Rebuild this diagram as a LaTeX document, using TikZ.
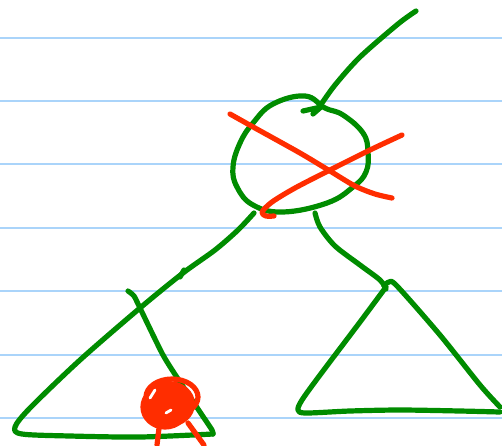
\documentclass[tikz,border=0pt]{standalone}
\usepackage{xcolor}
\usepackage{tikz}
\definecolor{inkgreen}{RGB}{0,140,0}
\definecolor{inkred}{RGB}{255,45,0}
\definecolor{ruleblue}{RGB}{170,212,250}
\tikzset{
  pen/.style={draw=inkgreen, line width=2.6pt, line cap=round, line join=round},
  redpen/.style={draw=inkred, line width=2.6pt, line cap=round, line join=round},
  ruled/.style={draw=ruleblue, line width=1pt}
}

\begin{document}
\begin{tikzpicture}[x=0.5pt, y=-0.5pt]
    \fill[white] (0,0) rectangle (502,445);
    \useasboundingbox (0,0) rectangle (502,445);
    % paper lines
    \foreach \y in {37.5,101,164,227.5,291,354.5,418}
      \draw[ruled] (0,\y) -- (502,\y);
    % root node with its parent edge
    \coordinate (top) at (416,11);
    \coordinate (root) at (320,106);
    \draw[pen] (top) plot[smooth] coordinates {(416,11) (398,24) (360,57) (335,85) (320,106)};
    \draw[pen] (303,111) -- (321,107) -- (313,114);
    \draw[pen] plot[smooth cycle, tension=0.7] coordinates {(325,108) (343,115) (363,133) (368,152)
      (366,172) (353,187) (327,203) (283,212) (253,205) (237,187) (233,167) (240,143)
      (253,123) (273,104) (305,96)};
    % crossed out
    \draw[redpen] plot[smooth] coordinates {(230,114) (255,128) (300,153) (330,171) (355,186) (375,194) (392,198)};
    \draw[redpen] plot[smooth] coordinates {(402,135) (370,150) (330,170) (295,188) (272,202) (262,212) (266,216) (274,216)};
    % left subtree
    \draw[pen] plot[smooth, tension=0.5] coordinates {(254,213) (238,230) (215,250) (183,273) (140,308)
      (80,360) (30,408) (15,427) (22,434) (70,436) (140,437) (213,434)};
    \draw[pen] (180,277) -- (184,270);
    \draw[pen] plot[smooth, tension=0.4] coordinates {(213,434) (212,430) (200,412) (182,385)
      (163,355) (140,308) (134,296) (128,291)};
    % removed element
    \fill[inkred] (169,404) ellipse [x radius=26, y radius=23];
    \draw[redpen] (172,397) ellipse [x radius=26, y radius=18];
    \draw[redpen] (165,407) ellipse [x radius=22, y radius=20];
    \draw[white, line width=1.4pt, line cap=round] (150,398) -- (155,390);
    \draw[white, line width=1.4pt, line cap=round] (166,413) -- (171,410);
    \draw[redpen] (159,428) -- (157,445);
    \draw[redpen] (188,423) -- (204,445);
    % right subtree
    \draw[pen] plot[smooth] coordinates {(315,213) (320,227) (335,246) (360,265) (380,280) (386,289)};
    \draw[pen] plot[smooth, tension=0.5] coordinates {(386,287) (360,322) (320,375) (302,400) (298,410)
      (306,413) (350,411) (400,410) (460,411) (500,412)};
    \draw[pen] plot[smooth, tension=0.5] coordinates {(384,286) (389,282) (397,286) (440,335) (480,385) (500,407)};
\end{tikzpicture}
\end{document}
